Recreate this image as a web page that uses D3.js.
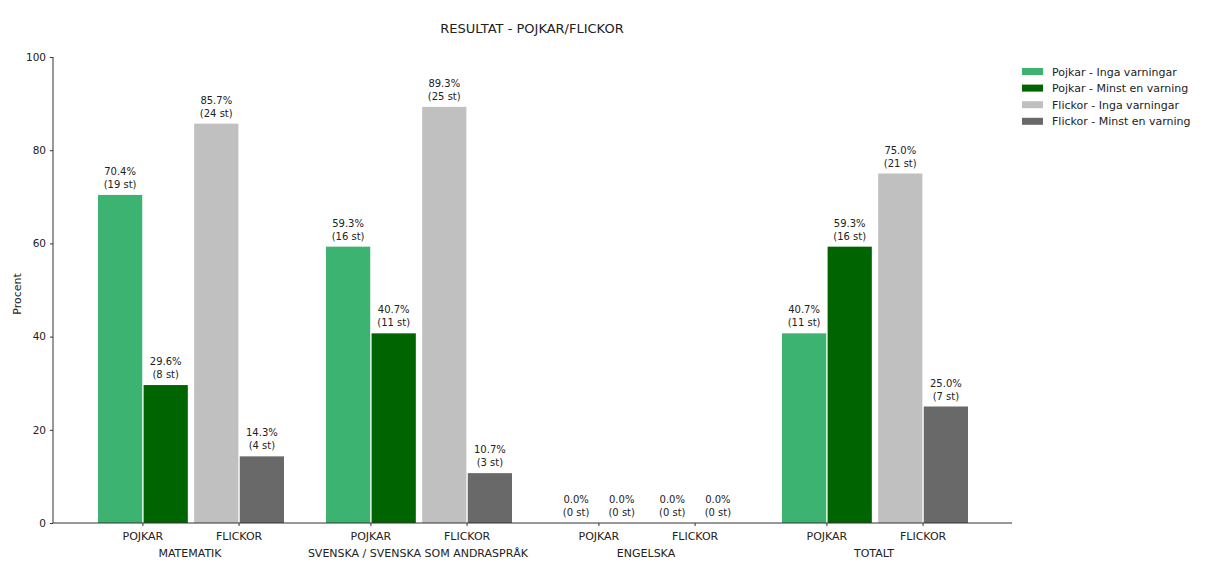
<!DOCTYPE html>
<html><head><meta charset="utf-8">
<script src="https://cdn.jsdelivr.net/npm/d3@7"></script>
<style>body{margin:0;background:#fff}svg text{font-family:"DejaVu Sans",sans-serif;fill:#222}</style>
</head><body><svg id="c" width="1205" height="566"></svg>
<script>
const subjects = ["MATEMATIK", "SVENSKA / SVENSKA SOM ANDRASPRÅK", "ENGELSKA", "TOTALT"];
const genders = ["POJKAR", "FLICKOR"];
const seriesNames = ["Pojkar - Inga varningar", "Pojkar - Minst en varning", "Flickor - Inga varningar", "Flickor - Minst en varning"];
const pojkarInga = [70.4, 59.3, 0.0, 40.7];
const pojkarMinst = [29.6, 40.7, 0.0, 59.3];
const flickorInga = [85.7, 89.3, 0.0, 75.0];
const flickorMinst = [14.3, 10.7, 0.0, 25.0];
const pojkarIngaN = [19, 16, 0, 11];
const pojkarMinstN = [8, 11, 0, 16];
const flickorIngaN = [24, 25, 0, 21];
const flickorMinstN = [4, 3, 0, 7];
const yTicks = [0, 20, 40, 60, 80, 100];
const colors = ["#3cb371", "#006400", "#c0c0c0", "#696969"];

const svg = d3.select("#c");
const mLeft = 53, mRight = 1012, mTop = 57, mBottom = 523;

const y = d3.scaleLinear().domain([0, 100]).range([mBottom, mTop]);
const x0 = d3.scaleBand().domain(subjects).range([76, 988]);
const xg = d3.scaleBand().domain(genders).range([-92, 94]).paddingInner(0.066);
const xt = d3.scaleBand().domain([0, 1]).range([0, xg.bandwidth()]).paddingInner(0.03);

const series = [
  {name: seriesNames[0], g: "POJKAR", t: 0, v: pojkarInga, n: pojkarIngaN},
  {name: seriesNames[1], g: "POJKAR", t: 1, v: pojkarMinst, n: pojkarMinstN},
  {name: seriesNames[2], g: "FLICKOR", t: 0, v: flickorInga, n: flickorIngaN},
  {name: seriesNames[3], g: "FLICKOR", t: 1, v: flickorMinst, n: flickorMinstN}
];
const center = s => x0(s) + x0.bandwidth() / 2;

// title
svg.append("text").attr("x", 532).attr("y", 33).attr("text-anchor", "middle")
  .style("font-size", "13px").text("RESULTAT - POJKAR/FLICKOR");

// bars
series.forEach((s, si) => {
  const g = svg.append("g");
  subjects.forEach((sub, i) => {
    const bx = center(sub) + xg(s.g) + xt(s.t);
    const bw = xt.bandwidth();
    if (s.v[i] > 0) {
      g.append("rect").attr("x", bx).attr("y", y(s.v[i])).attr("width", bw)
        .attr("height", y(0) - y(s.v[i])).attr("fill", colors[si]);
    }
    const cx = bx + bw / 2;
    g.append("text").attr("x", cx).attr("y", y(s.v[i]) - 20).attr("text-anchor", "middle")
      .style("font-size", "10px").text(s.v[i].toFixed(1) + "%");
    g.append("text").attr("x", cx).attr("y", y(s.v[i]) - 7).attr("text-anchor", "middle")
      .style("font-size", "10px").text("(" + s.n[i] + " st)");
  });
});

// y axis
const ya = svg.append("g").attr("transform", `translate(${mLeft},0)`)
  .call(d3.axisLeft(y).tickValues(yTicks).tickSize(3).tickPadding(4));
ya.select(".domain").attr("stroke", "#333").attr("d", `M0,${mBottom}V${mTop}`);
ya.selectAll(".tick line").attr("stroke", "#333");
ya.selectAll(".tick text").style("font-size", "10.5px").style("font-family", "DejaVu Sans").attr("fill", "#222");

// x axis
svg.append("line").attr("x1", mLeft).attr("x2", mRight).attr("y1", mBottom).attr("y2", mBottom)
  .attr("stroke", "#333").attr("stroke-width", 1);
subjects.forEach(sub => {
  genders.forEach(gn => {
    const tx = center(sub) + xg(gn) + xg.bandwidth() / 2;
    svg.append("line").attr("x1", tx).attr("x2", tx).attr("y1", mBottom).attr("y2", mBottom + 3).attr("stroke", "#333");
    svg.append("text").attr("x", tx).attr("y", mBottom + 17).attr("text-anchor", "middle")
      .style("font-size", "11px").text(gn);
  });
  svg.append("text").attr("x", center(sub)).attr("y", mBottom + 34).attr("text-anchor", "middle")
    .style("font-size", "11px").text(sub);
});

// y label
svg.append("text").attr("transform", "translate(21,294) rotate(-90)").attr("text-anchor", "middle")
  .style("font-size", "11px").text("Procent");

// legend
const lg = svg.append("g").attr("transform", "translate(1022,68)");
seriesNames.forEach((nm, i) => {
  lg.append("rect").attr("x", 0).attr("y", i * 16.6).attr("width", 21).attr("height", 7).attr("fill", colors[i]);
  lg.append("text").attr("x", 30).attr("y", i * 16.6 + 7.5).style("font-size", "11px").text(nm);
});
</script></body></html>
